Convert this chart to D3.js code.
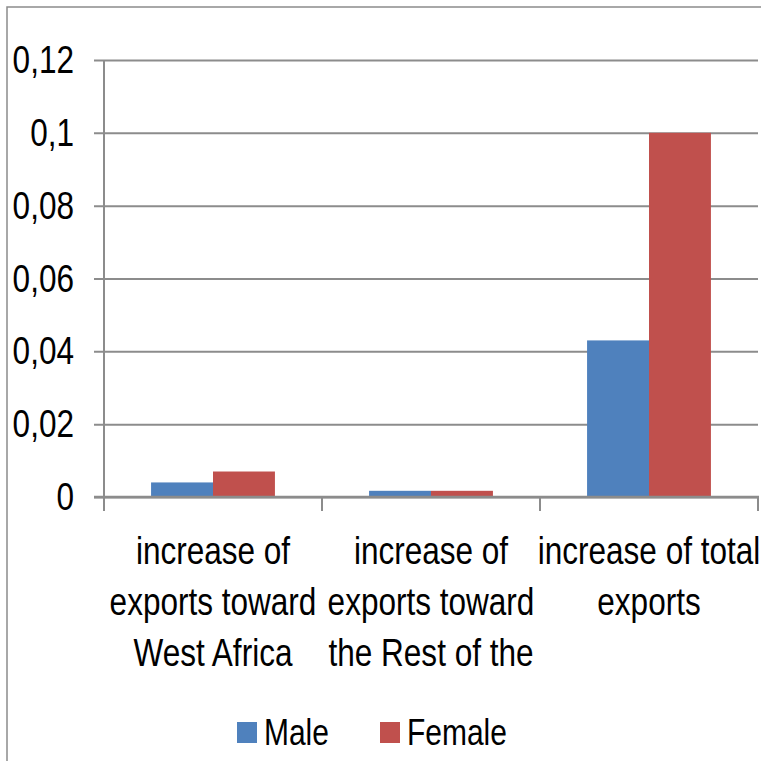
<!DOCTYPE html>
<html>
<head>
<meta charset="utf-8">
<script src="https://cdn.jsdelivr.net/npm/d3@7"></script>
<style>
  html, body { margin: 0; padding: 0; background: #fff; }
  svg text { font-family: "Liberation Sans", Arial, sans-serif; fill: #000; }
</style>
</head>
<body>
<svg id="chart" width="761" height="761"></svg>
<script>
// Categories (labels wrapped as shown, last line of the middle one truncated by the frame)
const categories = ["west", "rest", "total"];
const categoryLines = [
  ["increase of", "exports toward", "West Africa"],
  ["increase of", "exports toward", "the Rest of the"],
  ["increase of total", "exports"]
];
const seriesNames = ["Male", "Female"];
const maleValues = [0.004, 0.0017, 0.043];
const femaleValues = [0.007, 0.0017, 0.1];
const yTicks = [0, 0.02, 0.04, 0.06, 0.08, 0.1, 0.12];
const yTickLabels = ["0", "0,02", "0,04", "0,06", "0,08", "0,1", "0,12"];
const colors = ["#4f81bd", "#c0504d"];

const svg = d3.select("#chart");
const grey = "#8c8c8c";

// Draws horizontally condensed text anchored at (ax, ay)
function narrowText(parent, ax, ay, str, anchor, size, squeeze) {
  return parent.append("g")
    .attr("transform", `translate(${ax},${ay}) scale(${squeeze},1)`)
    .append("text")
    .attr("text-anchor", anchor)
    .style("font-size", size + "px")
    .text(str);
}

// Outer chart frame (left and top edges visible)
svg.append("path")
  .attr("d", "M7,761 V7 H761")
  .attr("fill", "none")
  .attr("stroke", grey)
  .attr("stroke-width", 1.5);

const plot = { left: 104, right: 758, top: 60, bottom: 497 };

const x = d3.scaleBand().domain(categories).range([plot.left, plot.right]).padding(0);
const xs = d3.scaleBand().domain(seriesNames).range([0, x.bandwidth()])
  .paddingOuter(0.76).paddingInner(0);
const y = d3.scaleLinear().domain([0, 0.12]).range([plot.bottom, plot.top]);

// Horizontal gridlines with left tick marks
const yAxis = d3.axisLeft(y).tickValues(yTicks)
  .tickSize(-(plot.right - plot.left)).tickFormat("");
const gy = svg.append("g").attr("transform", `translate(${plot.left},0)`).call(yAxis);
gy.select(".domain").remove();
gy.selectAll(".tick line").attr("stroke", grey).attr("stroke-width", 2)
  .attr("x1", -10);
gy.selectAll(".tick text").remove();
const yLab = svg.append("g");
yTicks.forEach((v, i) => {
  narrowText(yLab, plot.left - 30, y(v) + 13, yTickLabels[i], "end", 38, 0.83);
});

// Vertical axis line
svg.append("line")
  .attr("x1", plot.left).attr("x2", plot.left)
  .attr("y1", plot.top).attr("y2", plot.bottom)
  .attr("stroke", grey).attr("stroke-width", 2);

// Bars
const rows = categories.map((c, i) => ({ cat: c, vals: [maleValues[i], femaleValues[i]] }));
const groups = svg.append("g").selectAll("g").data(rows).join("g")
  .attr("transform", d => `translate(${x(d.cat)},0)`);
groups.selectAll("rect")
  .data(d => d.vals.map((v, j) => ({ key: seriesNames[j], v, j })))
  .join("rect")
  .attr("x", d => xs(d.key))
  .attr("width", xs.bandwidth())
  .attr("y", d => y(d.v))
  .attr("height", d => y(0) - y(d.v))
  .attr("fill", d => colors[d.j]);

// Category axis
const xAxis = d3.axisBottom(x).tickSize(0).tickFormat("");
const gx = svg.append("g").attr("transform", `translate(0,${plot.bottom})`).call(xAxis);
gx.select(".domain").attr("stroke", grey).attr("stroke-width", 2.5)
  .attr("d", `M${plot.left - 10},0H${plot.right + 1}`);
const boundaries = categories.map(c => x(c)).concat([x(categories[categories.length - 1]) + x.bandwidth()]);
gx.selectAll("line.sep").data(boundaries).join("line").attr("class", "sep")
  .attr("x1", d => d).attr("x2", d => d)
  .attr("y1", 0).attr("y2", 14)
  .attr("stroke", grey).attr("stroke-width", 2);

// Wrapped category labels
const lab = svg.append("g");
categories.forEach((c, i) => {
  const cx = x(c) + x.bandwidth() / 2;
  categoryLines[i].forEach((line, k) => {
    narrowText(lab, cx, 564 + k * 51, line, "middle", 38, 0.83);
  });
});

// Legend
const legend = svg.append("g");
const legendX = [237, 380];
seriesNames.forEach((name, j) => {
  legend.append("rect").attr("x", legendX[j]).attr("y", 722)
    .attr("width", 20).attr("height", 21).attr("fill", colors[j]);
  narrowText(legend, legendX[j] + 27, 745, name, "start", 37, 0.81);
});
</script>
</body>
</html>
